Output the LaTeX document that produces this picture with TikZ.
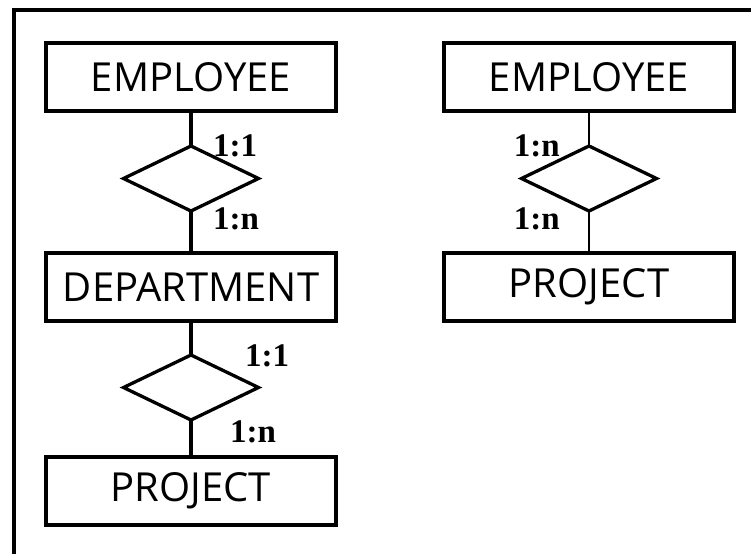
\documentclass[tikz,border=0pt]{standalone}
\usepackage{fontspec}
\setmainfont{Liberation Serif}
\newfontfamily\boxfont{Open Sans}
\usetikzlibrary{positioning,shapes.geometric}

\begin{document}
\begin{tikzpicture}[x=1pt,y=-1pt,
        entity/.style={draw, line width=3.3pt, outer sep=0pt, minimum width=290pt, minimum height=68pt,
            font=\boxfont\fontsize{40}{48}\selectfont},
        relation/.style={draw, diamond, line width=3.3pt, outer sep=0pt, inner sep=0pt,
            minimum width=135pt, minimum height=65pt},
        card/.style={inner sep=0pt, font=\bfseries\fontsize{33}{36}\selectfont},
        link/.style={line width=4pt}]
        \useasboundingbox (0,0) rectangle (751,554);
        % frame
        \draw[line width=4pt] (14,554) -- (14,10) -- (751,10);
        % left column
        \node[entity] (emp1) at (191,77) {EMPLOYEE};
        \node[relation, below=35pt of emp1] (rel1) {};
        \node[entity, below=42pt of rel1] (dept) {DEPARTMENT};
        \node[relation, below=34pt of dept] (rel2) {};
        \node[entity, below=37pt of rel2] (proj1) {PROJECT};
        \node[card, right=22pt of rel1.north] (c11) {1:1};
        \node[card, right=22pt of rel1.south, yshift=-8pt] (c12) {1:n};
        \node[card, right=54pt of rel2.north, yshift=-1pt] (c21) {1:1};
        \node[card, right=39pt of rel2.south, yshift=-12pt] (c22) {1:n};
        \draw[link] (emp1) -- (rel1);
        \draw[link] (rel1) -- (dept);
        \draw[link] (dept) -- (rel2);
        \draw[link] (rel2) -- (proj1);
        % right column
        \node[entity] (emp2) at (589,77) {EMPLOYEE};
        \node[relation, below=35pt of emp2] (rel3) {};
        \node[entity, below=42pt of rel3] (proj2) {PROJECT};
        \node[card, left=29pt of rel3.north] (c31) {1:n};
        \node[card, left=29pt of rel3.south, yshift=-8pt] (c32) {1:n};
        \draw[link, line width=2.8pt] (emp2) -- (rel3);
        \draw[link, line width=2.8pt] (rel3) -- (proj2);
    \end{tikzpicture}
\end{document}
